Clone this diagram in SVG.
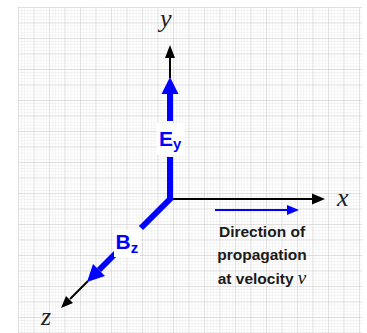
<svg xmlns="http://www.w3.org/2000/svg" width="367" height="333" viewBox="0 0 367 333">
  <defs>
    <pattern id="minor" x="18" y="7" width="3.1" height="3.1" patternUnits="userSpaceOnUse">
      <path d="M0,0 H3.1 M0,0 V3.1" stroke="#e8e8e8" stroke-width="0.8" fill="none"/>
    </pattern>
    <pattern id="major" x="18" y="7" width="15.5" height="15.5" patternUnits="userSpaceOnUse">
      <path d="M0,0 H15.5 M0,0 V15.5" stroke="#cccccc" stroke-width="1" fill="none"/>
    </pattern>
    <style>
      .axis { stroke: #000; stroke-width: 2; fill: none; }
      .head { fill: #000; }
      .bshaft { stroke: #0000ff; stroke-width: 6; fill: none; stroke-linejoin: miter; }
      .bthin { stroke: #0000ff; stroke-width: 2.2; fill: none; }
      .bhead { fill: #0000ff; }
      .axlbl { font-family: "Liberation Serif", "Times New Roman", serif; font-style: italic; font-size: 26px; fill: #222; }
      .field { font-family: "Liberation Sans", Arial, sans-serif; font-weight: bold; fill: #0000ff; }
      .note { font-family: "Liberation Sans", Arial, sans-serif; font-weight: bold; font-size: 15.5px; fill: #1a1a1a; text-anchor: middle; }
      .vel { font-family: "Liberation Serif", "Times New Roman", serif; font-style: italic; font-weight: normal; font-size: 19px; }
      .lblbg { fill: #fff; }
    </style>
  </defs>

  <rect x="0" y="0" width="367" height="333" fill="#fff"/>
  <g id="grid">
    <rect x="18" y="7" width="344" height="326" fill="url(#minor)"/>
    <rect x="18" y="7" width="344" height="326" fill="url(#major)"/>
  </g>

  <g id="connectors">
    <!-- y axis (black) -->
    <line class="axis" x1="170" y1="78" x2="170" y2="57"/>
    <polygon class="head" points="170,45 165,58 175,58"/>
    <!-- x axis (black) -->
    <line class="axis" x1="168" y1="199" x2="313" y2="199" stroke-width="2.5"/>
    <polygon class="head" points="325,199 312,193.5 312,204.5"/>
    <!-- z axis (black tail) -->
    <line class="axis" x1="88" y1="281" x2="70" y2="299"/>
    <polygon class="head" points="61,308 73,303 66,296"/>

    <!-- E field (blue) -->
    <path class="bshaft" d="M170,121 V92"/>
    <polygon class="bhead" points="170,77 161.5,94 178.5,94"/>
    <path class="bshaft" d="M170,157 V199 L141,228"/>
    <!-- B field (blue) -->
    <path class="bshaft" d="M116,253 L99,270"/>
    <polygon class="bhead" points="87,282 105,276 93,264"/>

    <!-- propagation arrow -->
    <line class="bthin" x1="215" y1="210" x2="288" y2="210"/>
    <polygon class="bhead" points="299,210 287,205 287,215"/>
  </g>

  <g id="label-y"><text class="axlbl" x="160" y="27">y</text></g>
  <g id="label-x"><text class="axlbl" x="337" y="206">x</text></g>
  <g id="label-z"><text class="axlbl" x="41" y="325">z</text></g>

  <g id="label-Ey">
    <rect class="lblbg" x="157" y="123" width="28" height="32"/>
    <text class="field" x="159" y="146" font-size="21">E<tspan font-size="15" dy="3">y</tspan></text>
  </g>
  <g id="label-Bz">
    <rect class="lblbg" x="114" y="230" width="26" height="27"/>
    <text class="field" x="115.5" y="249" font-size="21">B<tspan font-size="15" dy="4">z</tspan></text>
  </g>

  <g id="label-propagation">
    <text class="note" x="262" y="237">Direction of</text>
    <text class="note" x="262" y="260">propagation</text>
    <text class="note" x="262" y="284">at velocity <tspan class="vel">v</tspan></text>
  </g>
</svg>
